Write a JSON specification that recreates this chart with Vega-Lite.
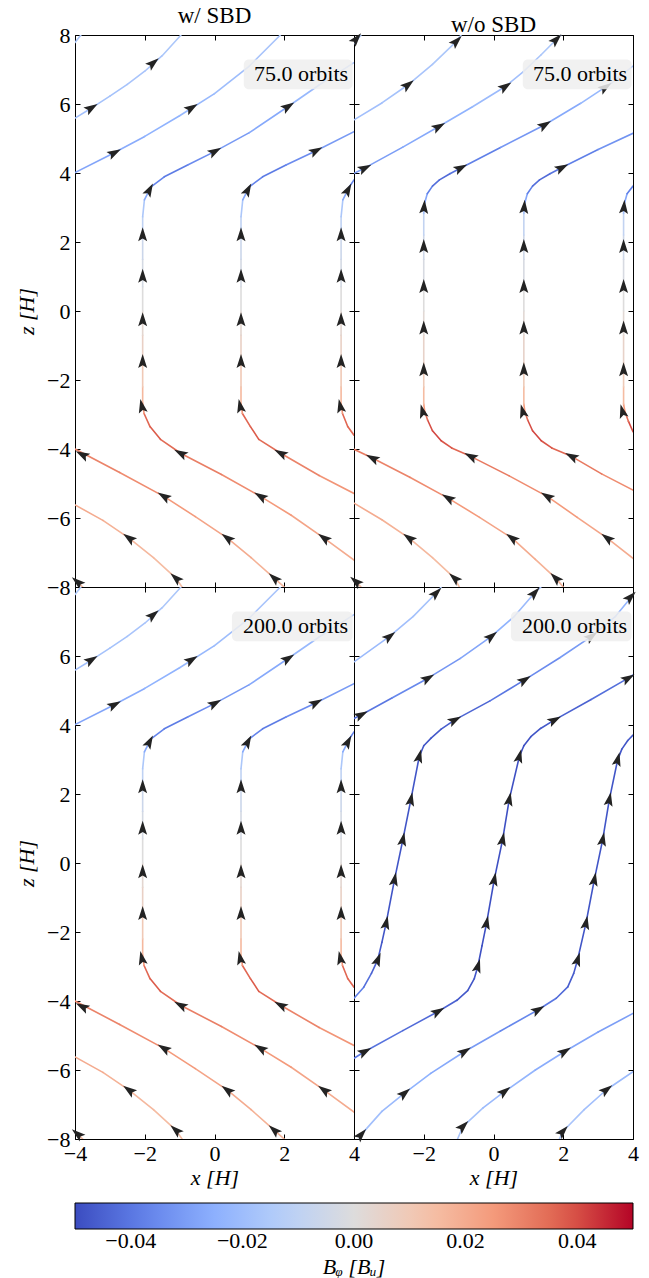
{
"$schema": "https://vega.github.io/schema/vega-lite/v6.json",
"background": "white",
"padding": {"left": 15, "top": 4, "right": 17, "bottom": 0},
"config": {
 "view": {"stroke": "black", "strokeWidth": 1},
 "font": "Liberation Serif",
 "axis": {"domain": false, "grid": false, "ticks": true, "tickSize": -5, "tickColor": "black", "tickWidth": 1, "labelFont": "Liberation Serif", "labelFontSize": 22, "labelColor": "black", "labelFlush": false, "labelOverlap": false, "titleFont": "Liberation Serif", "titleFontSize": 22, "titleFontWeight": "normal", "titleFontStyle": "italic", "titleColor": "black"},
 "axisX": {"labelPadding": 9, "titlePadding": 3},
 "axisY": {"labelPadding": 10, "titlePadding": 8},
 "title": {"font": "Liberation Serif", "fontSize": 23, "fontWeight": "normal", "color": "black", "frame": "group", "baseline": "alphabetic", "offset": -4},
 "legend": {"labelFont": "Liberation Serif", "labelFontSize": 22, "labelColor": "black", "labelOffset": 2, "titleFont": "Liberation Serif", "titleFontSize": 22, "titleFontWeight": "normal", "titleFontStyle": "italic", "titleColor": "black"}
},
"datasets": {
 "lines": [
  {"s":"A","l":1,"x":-4,"z":5.59,"b":-0.019},{"s":"A","l":1,"x":-3.5,"z":5.9,"b":-0.018},{"s":"A","l":1,"x":-3.0,"z":6.23,"b":-0.018},{"s":"A","l":1,"x":-2.5,"z":6.57,"b":-0.017},{"s":"A","l":1,"x":-2.0,"z":6.95,"b":-0.017},{"s":"A","l":1,"x":-1.5,"z":7.4,"b":-0.016},{"s":"A","l":1,"x":-0.96,"z":8,"b":-0.015},
  {"s":"A","l":2,"x":-4,"z":4.01,"b":-0.028},{"s":"A","l":2,"x":-3,"z":4.52,"b":-0.026},{"s":"A","l":2,"x":-2,"z":5.06,"b":-0.024},{"s":"A","l":2,"x":-1,"z":5.66,"b":-0.022},{"s":"A","l":2,"x":0,"z":6.3,"b":-0.02},{"s":"A","l":2,"x":1,"z":7.1,"b":-0.017},{"s":"A","l":2,"x":1.89,"z":8,"b":-0.015},
  {"s":"A","l":3,"x":4,"z":-7.22,"b":0.02},{"s":"A","l":3,"x":3.15,"z":-6.59,"b":0.022},{"s":"A","l":3,"x":2.2,"z":-5.92,"b":0.025},{"s":"A","l":3,"x":1.33,"z":-5.38,"b":0.028},{"s":"A","l":3,"x":0.2,"z":-4.74,"b":0.031},{"s":"A","l":3,"x":-0.96,"z":-4.13,"b":0.035},{"s":"A","l":3,"x":-1.55,"z":-3.72,"b":0.038},{"s":"A","l":3,"x":-1.85,"z":-3.35,"b":0.036},{"s":"A","l":3,"x":-2.02,"z":-2.97,"b":0.026},{"s":"A","l":3,"x":-2.06,"z":-2.67,"b":0.016},{"s":"A","l":3,"x":-2.06,"z":-2.2,"b":0.01},{"s":"A","l":3,"x":-2.06,"z":-1.5,"b":0.006},{"s":"A","l":3,"x":-2.06,"z":-0.7,"b":0.003},{"s":"A","l":3,"x":-2.06,"z":0,"b":0},{"s":"A","l":3,"x":-2.06,"z":0.7,"b":-0.003},{"s":"A","l":3,"x":-2.06,"z":1.5,"b":-0.006},{"s":"A","l":3,"x":-2.06,"z":2.2,"b":-0.01},{"s":"A","l":3,"x":-2.06,"z":2.73,"b":-0.016},{"s":"A","l":3,"x":-2.01,"z":3.22,"b":-0.027},{"s":"A","l":3,"x":-1.82,"z":3.6,"b":-0.037},{"s":"A","l":3,"x":-1.44,"z":3.89,"b":-0.039},{"s":"A","l":3,"x":-0.77,"z":4.23,"b":-0.035},{"s":"A","l":3,"x":0,"z":4.62,"b":-0.031},{"s":"A","l":3,"x":1.0,"z":5.17,"b":-0.027},{"s":"A","l":3,"x":2.1,"z":5.92,"b":-0.022},{"s":"A","l":3,"x":3.0,"z":6.55,"b":-0.018},{"s":"A","l":3,"x":4,"z":7.2,"b":-0.015},
  {"s":"A","l":4,"x":4,"z":-5.29,"b":0.026},{"s":"A","l":4,"x":3.0,"z":-4.77,"b":0.03},{"s":"A","l":4,"x":1.91,"z":-4.13,"b":0.035},{"s":"A","l":4,"x":1.27,"z":-3.72,"b":0.038},{"s":"A","l":4,"x":1.03,"z":-3.35,"b":0.036},{"s":"A","l":4,"x":0.8,"z":-2.97,"b":0.026},{"s":"A","l":4,"x":0.76,"z":-2.67,"b":0.016},{"s":"A","l":4,"x":0.76,"z":-2.2,"b":0.01},{"s":"A","l":4,"x":0.76,"z":-1.5,"b":0.006},{"s":"A","l":4,"x":0.76,"z":-0.7,"b":0.003},{"s":"A","l":4,"x":0.76,"z":0,"b":0},{"s":"A","l":4,"x":0.76,"z":0.7,"b":-0.003},{"s":"A","l":4,"x":0.76,"z":1.5,"b":-0.006},{"s":"A","l":4,"x":0.76,"z":2.2,"b":-0.01},{"s":"A","l":4,"x":0.76,"z":2.73,"b":-0.016},{"s":"A","l":4,"x":0.81,"z":3.22,"b":-0.027},{"s":"A","l":4,"x":1.0,"z":3.6,"b":-0.037},{"s":"A","l":4,"x":1.38,"z":3.89,"b":-0.039},{"s":"A","l":4,"x":2.05,"z":4.23,"b":-0.035},{"s":"A","l":4,"x":2.9,"z":4.64,"b":-0.031},{"s":"A","l":4,"x":4,"z":5.2,"b":-0.027},
  {"s":"A","l":5,"x":4,"z":-3.6,"b":0.036},{"s":"A","l":5,"x":3.82,"z":-3.35,"b":0.036},{"s":"A","l":5,"x":3.67,"z":-2.97,"b":0.026},{"s":"A","l":5,"x":3.63,"z":-2.67,"b":0.016},{"s":"A","l":5,"x":3.63,"z":-2.2,"b":0.01},{"s":"A","l":5,"x":3.63,"z":-1.5,"b":0.006},{"s":"A","l":5,"x":3.63,"z":-0.7,"b":0.003},{"s":"A","l":5,"x":3.63,"z":0,"b":0},{"s":"A","l":5,"x":3.63,"z":0.7,"b":-0.003},{"s":"A","l":5,"x":3.63,"z":1.5,"b":-0.006},{"s":"A","l":5,"x":3.63,"z":2.2,"b":-0.01},{"s":"A","l":5,"x":3.63,"z":2.73,"b":-0.016},{"s":"A","l":5,"x":3.68,"z":3.22,"b":-0.027},{"s":"A","l":5,"x":3.87,"z":3.6,"b":-0.037},{"s":"A","l":5,"x":4,"z":3.8,"b":-0.039},
  {"s":"A","l":6,"x":2.0,"z":-8,"b":0.017},{"s":"A","l":6,"x":1.72,"z":-7.75,"b":0.018},{"s":"A","l":6,"x":1.05,"z":-7.15,"b":0.02},{"s":"A","l":6,"x":0.38,"z":-6.59,"b":0.022},{"s":"A","l":6,"x":-0.55,"z":-5.96,"b":0.025},{"s":"A","l":6,"x":-1.44,"z":-5.38,"b":0.028},{"s":"A","l":6,"x":-2.72,"z":-4.68,"b":0.03},{"s":"A","l":6,"x":-4,"z":-4.0,"b":0.032},
  {"s":"A","l":7,"x":-0.93,"z":-8,"b":0.014},{"s":"A","l":7,"x":-1.1,"z":-7.75,"b":0.015},{"s":"A","l":7,"x":-1.75,"z":-7.15,"b":0.016},{"s":"A","l":7,"x":-2.44,"z":-6.59,"b":0.018},{"s":"A","l":7,"x":-3.2,"z":-6.07,"b":0.02},{"s":"A","l":7,"x":-4,"z":-5.62,"b":0.021},
  {"s":"A","l":8,"x":-3.78,"z":-8,"b":0.015},{"s":"A","l":8,"x":-3.9,"z":-7.88,"b":0.016},{"s":"A","l":8,"x":-4,"z":-7.8,"b":0.016},
  {"s":"A","l":9,"x":-4,"z":7.78,"b":-0.016},{"s":"A","l":9,"x":-3.83,"z":8,"b":-0.015},

  {"s":"B","l":1,"x":-4,"z":5.54,"b":-0.019},{"s":"B","l":1,"x":-3.2,"z":6.03,"b":-0.018},{"s":"B","l":1,"x":-2.46,"z":6.55,"b":-0.017},{"s":"B","l":1,"x":-1.75,"z":7.15,"b":-0.016},{"s":"B","l":1,"x":-1.07,"z":7.81,"b":-0.015},{"s":"B","l":1,"x":-0.93,"z":8,"b":-0.015},
  {"s":"B","l":2,"x":-4,"z":3.99,"b":-0.031},{"s":"B","l":2,"x":-3.7,"z":4.14,"b":-0.03},{"s":"B","l":2,"x":-2.6,"z":4.75,"b":-0.027},{"s":"B","l":2,"x":-1.58,"z":5.34,"b":-0.024},{"s":"B","l":2,"x":-0.6,"z":5.92,"b":-0.021},{"s":"B","l":2,"x":0.33,"z":6.5,"b":-0.019},{"s":"B","l":2,"x":0.85,"z":6.93,"b":-0.017},{"s":"B","l":2,"x":1.36,"z":7.42,"b":-0.016},{"s":"B","l":2,"x":1.93,"z":8,"b":-0.015},
  {"s":"B","l":3,"x":4,"z":-7.17,"b":0.02},{"s":"B","l":3,"x":3.27,"z":-6.59,"b":0.022},{"s":"B","l":3,"x":2.4,"z":-5.98,"b":0.025},{"s":"B","l":3,"x":1.55,"z":-5.38,"b":0.028},{"s":"B","l":3,"x":0.45,"z":-4.78,"b":0.032},{"s":"B","l":3,"x":-0.64,"z":-4.22,"b":0.036},{"s":"B","l":3,"x":-1.2,"z":-3.97,"b":0.039},{"s":"B","l":3,"x":-1.5,"z":-3.76,"b":0.041},{"s":"B","l":3,"x":-1.75,"z":-3.47,"b":0.04},{"s":"B","l":3,"x":-1.89,"z":-3.16,"b":0.034},{"s":"B","l":3,"x":-1.97,"z":-2.92,"b":0.025},{"s":"B","l":3,"x":-2.0,"z":-2.7,"b":0.015},{"s":"B","l":3,"x":-2.0,"z":-2.2,"b":0.009},{"s":"B","l":3,"x":-2.0,"z":-1.5,"b":0.005},{"s":"B","l":3,"x":-2.0,"z":-0.7,"b":0.002},{"s":"B","l":3,"x":-2.0,"z":0,"b":0},{"s":"B","l":3,"x":-2.0,"z":0.7,"b":-0.002},{"s":"B","l":3,"x":-2.0,"z":1.5,"b":-0.005},{"s":"B","l":3,"x":-2.0,"z":2.2,"b":-0.009},{"s":"B","l":3,"x":-2.0,"z":2.83,"b":-0.018},{"s":"B","l":3,"x":-1.98,"z":3.1,"b":-0.028},{"s":"B","l":3,"x":-1.9,"z":3.4,"b":-0.038},{"s":"B","l":3,"x":-1.75,"z":3.62,"b":-0.042},{"s":"B","l":3,"x":-1.55,"z":3.8,"b":-0.043},{"s":"B","l":3,"x":-1.25,"z":3.98,"b":-0.041},{"s":"B","l":3,"x":-0.95,"z":4.14,"b":-0.038},{"s":"B","l":3,"x":0.2,"z":4.74,"b":-0.032},{"s":"B","l":3,"x":1.46,"z":5.39,"b":-0.027},{"s":"B","l":3,"x":2.5,"z":6.02,"b":-0.022},{"s":"B","l":3,"x":3.4,"z":6.62,"b":-0.018},{"s":"B","l":3,"x":4,"z":7.1,"b":-0.016},
  {"s":"B","l":4,"x":4,"z":-5.19,"b":0.028},{"s":"B","l":4,"x":3.1,"z":-4.72,"b":0.032},{"s":"B","l":4,"x":2.25,"z":-4.22,"b":0.036},{"s":"B","l":4,"x":1.67,"z":-3.97,"b":0.039},{"s":"B","l":4,"x":1.37,"z":-3.76,"b":0.041},{"s":"B","l":4,"x":1.12,"z":-3.47,"b":0.04},{"s":"B","l":4,"x":0.98,"z":-3.16,"b":0.034},{"s":"B","l":4,"x":0.9,"z":-2.92,"b":0.025},{"s":"B","l":4,"x":0.87,"z":-2.7,"b":0.015},{"s":"B","l":4,"x":0.87,"z":-2.2,"b":0.009},{"s":"B","l":4,"x":0.87,"z":-1.5,"b":0.005},{"s":"B","l":4,"x":0.87,"z":-0.7,"b":0.002},{"s":"B","l":4,"x":0.87,"z":0,"b":0},{"s":"B","l":4,"x":0.87,"z":0.7,"b":-0.002},{"s":"B","l":4,"x":0.87,"z":1.5,"b":-0.005},{"s":"B","l":4,"x":0.87,"z":2.2,"b":-0.009},{"s":"B","l":4,"x":0.87,"z":2.83,"b":-0.018},{"s":"B","l":4,"x":0.89,"z":3.1,"b":-0.028},{"s":"B","l":4,"x":0.97,"z":3.4,"b":-0.038},{"s":"B","l":4,"x":1.12,"z":3.62,"b":-0.042},{"s":"B","l":4,"x":1.32,"z":3.8,"b":-0.043},{"s":"B","l":4,"x":1.62,"z":3.98,"b":-0.041},{"s":"B","l":4,"x":1.95,"z":4.15,"b":-0.038},{"s":"B","l":4,"x":3.0,"z":4.68,"b":-0.033},{"s":"B","l":4,"x":4,"z":5.15,"b":-0.029},
  {"s":"B","l":5,"x":4,"z":-3.5,"b":0.04},{"s":"B","l":5,"x":3.87,"z":-3.2,"b":0.034},{"s":"B","l":5,"x":3.77,"z":-2.92,"b":0.025},{"s":"B","l":5,"x":3.73,"z":-2.7,"b":0.015},{"s":"B","l":5,"x":3.73,"z":-2.2,"b":0.009},{"s":"B","l":5,"x":3.73,"z":-1.5,"b":0.005},{"s":"B","l":5,"x":3.73,"z":-0.7,"b":0.002},{"s":"B","l":5,"x":3.73,"z":0,"b":0},{"s":"B","l":5,"x":3.73,"z":0.7,"b":-0.002},{"s":"B","l":5,"x":3.73,"z":1.5,"b":-0.005},{"s":"B","l":5,"x":3.73,"z":2.2,"b":-0.009},{"s":"B","l":5,"x":3.73,"z":2.83,"b":-0.018},{"s":"B","l":5,"x":3.75,"z":3.1,"b":-0.028},{"s":"B","l":5,"x":3.83,"z":3.4,"b":-0.038},{"s":"B","l":5,"x":4,"z":3.62,"b":-0.042},
  {"s":"B","l":6,"x":2.0,"z":-8,"b":0.017},{"s":"B","l":6,"x":1.79,"z":-7.75,"b":0.018},{"s":"B","l":6,"x":1.2,"z":-7.2,"b":0.02},{"s":"B","l":6,"x":0.54,"z":-6.59,"b":0.022},{"s":"B","l":6,"x":-0.4,"z":-5.98,"b":0.025},{"s":"B","l":6,"x":-1.29,"z":-5.43,"b":0.028},{"s":"B","l":6,"x":-2.4,"z":-4.82,"b":0.03},{"s":"B","l":6,"x":-3.46,"z":-4.27,"b":0.032},{"s":"B","l":6,"x":-4,"z":-4.01,"b":0.033},
  {"s":"B","l":7,"x":-0.98,"z":-8,"b":0.014},{"s":"B","l":7,"x":-1.11,"z":-7.75,"b":0.015},{"s":"B","l":7,"x":-1.75,"z":-7.15,"b":0.016},{"s":"B","l":7,"x":-2.41,"z":-6.59,"b":0.018},{"s":"B","l":7,"x":-3.2,"z":-6.05,"b":0.02},{"s":"B","l":7,"x":-4,"z":-5.57,"b":0.021},
  {"s":"B","l":8,"x":-3.8,"z":-8,"b":0.015},{"s":"B","l":8,"x":-3.92,"z":-7.87,"b":0.016},{"s":"B","l":8,"x":-4,"z":-7.8,"b":0.016},
  {"s":"B","l":9,"x":-4,"z":7.75,"b":-0.016},{"s":"B","l":9,"x":-3.8,"z":8,"b":-0.015},

  {"s":"C","l":1,"x":-4,"z":5.83,"b":-0.021},{"s":"C","l":1,"x":-2.99,"z":6.56,"b":-0.019},{"s":"C","l":1,"x":-2.3,"z":7.15,"b":-0.018},{"s":"C","l":1,"x":-1.65,"z":7.82,"b":-0.016},{"s":"C","l":1,"x":-1.5,"z":8,"b":-0.016},
  {"s":"C","l":2,"x":-4,"z":4.19,"b":-0.042},{"s":"C","l":2,"x":-3.8,"z":4.29,"b":-0.04},{"s":"C","l":2,"x":-2.9,"z":4.79,"b":-0.036},{"s":"C","l":2,"x":-1.89,"z":5.35,"b":-0.032},{"s":"C","l":2,"x":-0.95,"z":5.93,"b":-0.028},{"s":"C","l":2,"x":-0.07,"z":6.56,"b":-0.024},{"s":"C","l":2,"x":0.6,"z":7.15,"b":-0.021},{"s":"C","l":2,"x":1.17,"z":7.82,"b":-0.019},{"s":"C","l":2,"x":1.36,"z":8,"b":-0.018},
  {"s":"C","l":3,"x":-4,"z":-3.92,"b":-0.038},{"s":"C","l":3,"x":-3.72,"z":-3.6,"b":-0.042},{"s":"C","l":3,"x":-3.5,"z":-3.2,"b":-0.045},{"s":"C","l":3,"x":-3.32,"z":-2.81,"b":-0.047},{"s":"C","l":3,"x":-3.2,"z":-2.3,"b":-0.048},{"s":"C","l":3,"x":-3.08,"z":-1.75,"b":-0.048},{"s":"C","l":3,"x":-2.84,"z":-0.49,"b":-0.048},{"s":"C","l":3,"x":-2.6,"z":0.67,"b":-0.048},{"s":"C","l":3,"x":-2.37,"z":1.83,"b":-0.048},{"s":"C","l":3,"x":-2.13,"z":3.08,"b":-0.048},{"s":"C","l":3,"x":-2.0,"z":3.4,"b":-0.048},{"s":"C","l":3,"x":-1.79,"z":3.62,"b":-0.047},{"s":"C","l":3,"x":-1.5,"z":3.88,"b":-0.046},{"s":"C","l":3,"x":-1.12,"z":4.14,"b":-0.044},{"s":"C","l":3,"x":-0.1,"z":4.7,"b":-0.04},{"s":"C","l":3,"x":0.88,"z":5.3,"b":-0.035},{"s":"C","l":3,"x":1.9,"z":5.95,"b":-0.031},{"s":"C","l":3,"x":2.8,"z":6.56,"b":-0.027},{"s":"C","l":3,"x":3.5,"z":7.15,"b":-0.023},{"s":"C","l":3,"x":4,"z":7.77,"b":-0.02},
  {"s":"C","l":4,"x":-4,"z":-5.66,"b":-0.04},{"s":"C","l":4,"x":-3.7,"z":-5.47,"b":-0.041},{"s":"C","l":4,"x":-2.6,"z":-4.86,"b":-0.043},{"s":"C","l":4,"x":-1.6,"z":-4.31,"b":-0.045},{"s":"C","l":4,"x":-1.05,"z":-3.98,"b":-0.047},{"s":"C","l":4,"x":-0.74,"z":-3.7,"b":-0.048},{"s":"C","l":4,"x":-0.55,"z":-3.35,"b":-0.048},{"s":"C","l":4,"x":-0.45,"z":-3.0,"b":-0.049},{"s":"C","l":4,"x":-0.33,"z":-2.4,"b":-0.049},{"s":"C","l":4,"x":-0.2,"z":-1.75,"b":-0.049},{"s":"C","l":4,"x":0.02,"z":-0.49,"b":-0.049},{"s":"C","l":4,"x":0.26,"z":0.67,"b":-0.049},{"s":"C","l":4,"x":0.45,"z":1.83,"b":-0.049},{"s":"C","l":4,"x":0.74,"z":3.08,"b":-0.049},{"s":"C","l":4,"x":0.87,"z":3.4,"b":-0.049},{"s":"C","l":4,"x":1.07,"z":3.66,"b":-0.048},{"s":"C","l":4,"x":1.35,"z":3.9,"b":-0.047},{"s":"C","l":4,"x":1.74,"z":4.14,"b":-0.045},{"s":"C","l":4,"x":2.8,"z":4.74,"b":-0.042},{"s":"C","l":4,"x":3.85,"z":5.35,"b":-0.039},{"s":"C","l":4,"x":4,"z":5.45,"b":-0.039},
  {"s":"C","l":5,"x":-3.85,"z":-8,"b":-0.018},{"s":"C","l":5,"x":-3.8,"z":-7.88,"b":-0.019},{"s":"C","l":5,"x":-3.2,"z":-7.2,"b":-0.021},{"s":"C","l":5,"x":-2.56,"z":-6.68,"b":-0.024},{"s":"C","l":5,"x":-1.8,"z":-6.1,"b":-0.027},{"s":"C","l":5,"x":-0.84,"z":-5.47,"b":-0.031},{"s":"C","l":5,"x":0.2,"z":-4.87,"b":-0.036},{"s":"C","l":5,"x":1.27,"z":-4.26,"b":-0.04},{"s":"C","l":5,"x":1.8,"z":-3.92,"b":-0.043},{"s":"C","l":5,"x":2.13,"z":-3.59,"b":-0.046},{"s":"C","l":5,"x":2.3,"z":-3.2,"b":-0.047},{"s":"C","l":5,"x":2.41,"z":-2.81,"b":-0.048},{"s":"C","l":5,"x":2.65,"z":-1.75,"b":-0.048},{"s":"C","l":5,"x":2.89,"z":-0.49,"b":-0.048},{"s":"C","l":5,"x":3.13,"z":0.67,"b":-0.048},{"s":"C","l":5,"x":3.32,"z":1.83,"b":-0.048},{"s":"C","l":5,"x":3.56,"z":2.99,"b":-0.048},{"s":"C","l":5,"x":3.68,"z":3.3,"b":-0.048},{"s":"C","l":5,"x":3.85,"z":3.55,"b":-0.047},{"s":"C","l":5,"x":4,"z":3.71,"b":-0.047},
  {"s":"C","l":6,"x":-1.03,"z":-8,"b":-0.017},{"s":"C","l":6,"x":-0.88,"z":-7.64,"b":-0.018},{"s":"C","l":6,"x":-0.3,"z":-7.1,"b":-0.021},{"s":"C","l":6,"x":0.31,"z":-6.63,"b":-0.023},{"s":"C","l":6,"x":1.2,"z":-6.0,"b":-0.026},{"s":"C","l":6,"x":2.03,"z":-5.47,"b":-0.028},{"s":"C","l":6,"x":3.0,"z":-4.9,"b":-0.03},{"s":"C","l":6,"x":4,"z":-4.36,"b":-0.032},
  {"s":"C","l":7,"x":1.89,"z":-8,"b":-0.016},{"s":"C","l":7,"x":1.98,"z":-7.79,"b":-0.017},{"s":"C","l":7,"x":2.6,"z":-7.15,"b":-0.019},{"s":"C","l":7,"x":3.23,"z":-6.58,"b":-0.021},{"s":"C","l":7,"x":4,"z":-6.05,"b":-0.022}
 ],
 "arrows": [
  {"s":"A","x":-3.54,"z":5.88,"a":58},{"s":"A","x":-1.77,"z":7.18,"a":50},{"s":"A","x":-2.88,"z":4.58,"a":62},{"s":"A","x":-0.67,"z":5.88,"a":58},{"s":"A","x":0,"z":4.62,"a":61},{"s":"A","x":2.1,"z":5.92,"a":57},{"s":"A","x":2.9,"z":4.64,"a":61},{"s":"A","x":-1.87,"z":3.5,"a":28},{"s":"A","x":0.95,"z":3.5,"a":28},{"s":"A","x":3.82,"z":3.5,"a":28},
  {"s":"A","x":-2.06,"z":2.2,"a":0},{"s":"A","x":-2.06,"z":1.0,"a":0},{"s":"A","x":-2.06,"z":-0.26,"a":0},{"s":"A","x":-2.06,"z":-1.47,"a":0},{"s":"A","x":-2.08,"z":-2.77,"a":-12},
  {"s":"A","x":0.76,"z":2.2,"a":0},{"s":"A","x":0.76,"z":1.0,"a":0},{"s":"A","x":0.76,"z":-0.26,"a":0},{"s":"A","x":0.76,"z":-1.47,"a":0},{"s":"A","x":0.74,"z":-2.77,"a":-12},
  {"s":"A","x":3.63,"z":2.2,"a":0},{"s":"A","x":3.63,"z":1.0,"a":0},{"s":"A","x":3.63,"z":-0.26,"a":0},{"s":"A","x":3.63,"z":-1.47,"a":0},{"s":"A","x":3.61,"z":-2.77,"a":-12},
  {"s":"A","x":-3.78,"z":-4.17,"a":-62},{"s":"A","x":-1.44,"z":-5.38,"a":-59},{"s":"A","x":0.38,"z":-6.59,"a":-53},{"s":"A","x":1.72,"z":-7.75,"a":-48},{"s":"A","x":-2.44,"z":-6.59,"a":-54},{"s":"A","x":-1.1,"z":-7.75,"a":-48},{"s":"A","x":-0.96,"z":-4.13,"a":-62},{"s":"A","x":1.33,"z":-5.38,"a":-59},{"s":"A","x":3.15,"z":-6.59,"a":-54},{"s":"A","x":1.91,"z":-4.13,"a":-62},{"s":"A","x":-3.92,"z":-7.86,"a":-50},

  {"s":"B","x":-2.46,"z":6.55,"a":52},{"s":"B","x":-1.07,"z":7.81,"a":45},{"s":"B","x":-3.7,"z":4.14,"a":63},{"s":"B","x":-1.58,"z":5.34,"a":60},{"s":"B","x":0.33,"z":6.5,"a":56},{"s":"B","x":1.79,"z":7.86,"a":45},{"s":"B","x":-0.95,"z":4.14,"a":62},{"s":"B","x":1.46,"z":5.39,"a":58},{"s":"B","x":3.2,"z":6.48,"a":56},{"s":"B","x":1.95,"z":4.15,"a":62},{"s":"B","x":-3.94,"z":7.88,"a":40},
  {"s":"B","x":-1.99,"z":3.0,"a":4},{"s":"B","x":-2.0,"z":1.86,"a":0},{"s":"B","x":-2.0,"z":0.7,"a":0},{"s":"B","x":-2.0,"z":-0.5,"a":0},{"s":"B","x":-2.0,"z":-1.71,"a":0},{"s":"B","x":-2.03,"z":-2.92,"a":-15},
  {"s":"B","x":0.88,"z":3.0,"a":4},{"s":"B","x":0.87,"z":1.86,"a":0},{"s":"B","x":0.87,"z":0.7,"a":0},{"s":"B","x":0.87,"z":-0.5,"a":0},{"s":"B","x":0.87,"z":-1.71,"a":0},{"s":"B","x":0.84,"z":-2.92,"a":-15},
  {"s":"B","x":3.74,"z":3.0,"a":4},{"s":"B","x":3.73,"z":1.86,"a":0},{"s":"B","x":3.73,"z":0.7,"a":0},{"s":"B","x":3.73,"z":-0.5,"a":0},{"s":"B","x":3.73,"z":-1.71,"a":0},{"s":"B","x":3.7,"z":-2.92,"a":-15},
  {"s":"B","x":-3.46,"z":-4.27,"a":-63},{"s":"B","x":-0.64,"z":-4.22,"a":-62},{"s":"B","x":2.25,"z":-4.22,"a":-62},{"s":"B","x":-1.29,"z":-5.43,"a":-59},{"s":"B","x":1.55,"z":-5.38,"a":-59},{"s":"B","x":-2.41,"z":-6.59,"a":-54},{"s":"B","x":0.54,"z":-6.59,"a":-53},{"s":"B","x":3.27,"z":-6.59,"a":-53},{"s":"B","x":-1.11,"z":-7.75,"a":-48},{"s":"B","x":1.79,"z":-7.75,"a":-45},{"s":"B","x":-3.94,"z":-7.85,"a":-50},

  {"s":"C","x":-2.99,"z":6.56,"a":52},{"s":"C","x":-1.65,"z":7.82,"a":45},
  {"s":"C","x":-3.8,"z":4.29,"a":62},{"s":"C","x":-1.89,"z":5.35,"a":59},{"s":"C","x":-0.07,"z":6.56,"a":51},{"s":"C","x":1.17,"z":7.82,"a":42},
  {"s":"C","x":-3.32,"z":-2.81,"a":22},{"s":"C","x":-3.08,"z":-1.75,"a":12},{"s":"C","x":-2.84,"z":-0.49,"a":11},{"s":"C","x":-2.6,"z":0.67,"a":11},{"s":"C","x":-2.37,"z":1.83,"a":11},{"s":"C","x":-2.13,"z":3.08,"a":14},{"s":"C","x":-1.12,"z":4.14,"a":61},{"s":"C","x":0.88,"z":5.3,"a":57},{"s":"C","x":2.8,"z":6.56,"a":53},{"s":"C","x":3.92,"z":7.7,"a":45},
  {"s":"C","x":-3.7,"z":-5.47,"a":61},{"s":"C","x":-1.6,"z":-4.31,"a":60},{"s":"C","x":-0.45,"z":-3.0,"a":16},{"s":"C","x":-0.2,"z":-1.75,"a":11},{"s":"C","x":0.02,"z":-0.49,"a":11},{"s":"C","x":0.26,"z":0.67,"a":11},{"s":"C","x":0.45,"z":1.83,"a":11},{"s":"C","x":0.74,"z":3.08,"a":14},{"s":"C","x":1.74,"z":4.14,"a":61},{"s":"C","x":3.85,"z":5.35,"a":60},
  {"s":"C","x":-3.8,"z":-7.88,"a":42},{"s":"C","x":-2.56,"z":-6.68,"a":50},{"s":"C","x":-0.84,"z":-5.47,"a":58},{"s":"C","x":1.27,"z":-4.26,"a":60},{"s":"C","x":2.41,"z":-2.81,"a":17},{"s":"C","x":2.65,"z":-1.75,"a":11},{"s":"C","x":2.89,"z":-0.49,"a":11},{"s":"C","x":3.13,"z":0.67,"a":11},{"s":"C","x":3.32,"z":1.83,"a":11},{"s":"C","x":3.56,"z":2.99,"a":14},
  {"s":"C","x":-0.88,"z":-7.64,"a":45},{"s":"C","x":0.31,"z":-6.63,"a":52},{"s":"C","x":2.03,"z":-5.47,"a":58},
  {"s":"C","x":1.98,"z":-7.79,"a":42},{"s":"C","x":3.23,"z":-6.58,"a":52}
 ]
},
"columns": 2,
"spacing": 0,
"bounds": "flush",
"concat": [
  {"width": 279, "height": 552, "title": {"text": "w/ SBD"},
   "layer": [
    {"data": {"name": "lines"}, "transform": [{"filter": "datum.s == 'A'"}, {"window": [{"op": "lead", "field": "x", "as": "x2"}, {"op": "lead", "field": "z", "as": "z2"}], "groupby": ["l"]}, {"filter": "datum.x2 != null"}],
     "mark": {"type": "rule", "strokeWidth": 1.6, "strokeCap": "round", "clip": true},
     "encoding": {
      "x": {"field": "x", "type": "quantitative", "scale": {"domain": [-4, 4], "nice": false, "zero": false}, "axis": {"orient": "bottom", "labels": false, "title": null, "values": [-4,-2,0,2,4]}},
      "y": {"field": "z", "type": "quantitative", "scale": {"domain": [-8, 8], "nice": false, "zero": false}, "axis": {"orient": "left", "title": "z [H]", "values": [-8,-6,-4,-2,0,2,4,6,8]}},
      "x2": {"field": "x2"}, "y2": {"field": "z2"},
      "color": {"field": "b", "type": "quantitative", "scale": {"domain": [-0.05,-0.0375,-0.025,-0.0125,0,0.0125,0.025,0.0375,0.05], "range": ["#3b4cc0","#6282ea","#8db0fe","#b8d0f9","#dddcdc","#f5c4ac","#f49a7b","#de604d","#b40426"], "interpolate": "rgb", "clamp": true}, "legend": {"orient": "bottom", "direction": "horizontal", "title": "Bᵩ [Bᵤ]", "titleOrient": "bottom", "titleAnchor": "middle", "gradientLength": 558, "gradientThickness": 26, "gradientStrokeColor": "black", "gradientStrokeWidth": 1, "values": [-0.04,-0.02,0,0.02,0.04], "format": ".2f", "offset": 14}}
     }},
    {"data": {"name": "arrows"}, "transform": [{"filter": "datum.s == 'A'"}],
     "mark": {"type": "point", "shape": "M0,-1L0.58,0.8L0,0.45L-0.58,0.8Z", "filled": true, "color": "#232323", "size": 240, "opacity": 1, "strokeWidth": 0},
     "encoding": {
      "x": {"field": "x", "type": "quantitative", "scale": {"domain": [-4, 4], "nice": false, "zero": false}, "axis": {"orient": "top", "labels": false, "title": null, "values": [-4,-2,0,2,4]}},
      "y": {"field": "z", "type": "quantitative", "scale": {"domain": [-8, 8], "nice": false, "zero": false}, "axis": {"orient": "right", "labels": false, "title": null, "values": [-8,-6,-4,-2,0,2,4,6,8]}},
      "angle": {"field": "a", "type": "quantitative", "scale": null}
     }},
    {"data": {"values": [{}]},
     "mark": {"type": "rect", "fill": "#efefef", "fillOpacity": 0.85, "cornerRadius": 5},
     "encoding": {"x": {"datum": 0.84, "type": "quantitative", "axis": null}, "x2": {"datum": 3.96}, "y": {"datum": 7.29, "type": "quantitative", "axis": null}, "y2": {"datum": 6.43}}},
    {"data": {"values": [{}]},
     "mark": {"type": "text", "text": "75.0 orbits", "align": "right", "baseline": "middle", "fontSize": 22, "font": "Liberation Serif", "color": "black"},
     "encoding": {"x": {"datum": 3.83, "type": "quantitative", "axis": null}, "y": {"datum": 6.88, "type": "quantitative", "axis": null}}}
   ],
   "resolve": {"axis": {"x": "independent", "y": "independent"}}
  },
  {"width": 279, "height": 552, "title": {"text": "w/o SBD"},
   "layer": [
    {"data": {"name": "lines"}, "transform": [{"filter": "datum.s == 'B'"}, {"window": [{"op": "lead", "field": "x", "as": "x2"}, {"op": "lead", "field": "z", "as": "z2"}], "groupby": ["l"]}, {"filter": "datum.x2 != null"}],
     "mark": {"type": "rule", "strokeWidth": 1.6, "strokeCap": "round", "clip": true},
     "encoding": {
      "x": {"field": "x", "type": "quantitative", "scale": {"domain": [-4, 4], "nice": false, "zero": false}, "axis": {"orient": "bottom", "labels": false, "title": null, "values": [-4,-2,0,2,4]}},
      "y": {"field": "z", "type": "quantitative", "scale": {"domain": [-8, 8], "nice": false, "zero": false}, "axis": {"orient": "left", "labels": false, "title": null, "values": [-8,-6,-4,-2,0,2,4,6,8]}},
      "x2": {"field": "x2"}, "y2": {"field": "z2"},
      "color": {"field": "b", "type": "quantitative", "scale": {"domain": [-0.05,-0.0375,-0.025,-0.0125,0,0.0125,0.025,0.0375,0.05], "range": ["#3b4cc0","#6282ea","#8db0fe","#b8d0f9","#dddcdc","#f5c4ac","#f49a7b","#de604d","#b40426"], "interpolate": "rgb", "clamp": true}, "legend": {"orient": "bottom", "direction": "horizontal", "title": "Bᵩ [Bᵤ]", "titleOrient": "bottom", "titleAnchor": "middle", "gradientLength": 558, "gradientThickness": 26, "gradientStrokeColor": "black", "gradientStrokeWidth": 1, "values": [-0.04,-0.02,0,0.02,0.04], "format": ".2f", "offset": 14}}
     }},
    {"data": {"name": "arrows"}, "transform": [{"filter": "datum.s == 'B'"}],
     "mark": {"type": "point", "shape": "M0,-1L0.58,0.8L0,0.45L-0.58,0.8Z", "filled": true, "color": "#232323", "size": 240, "opacity": 1, "strokeWidth": 0},
     "encoding": {
      "x": {"field": "x", "type": "quantitative", "scale": {"domain": [-4, 4], "nice": false, "zero": false}, "axis": {"orient": "top", "labels": false, "title": null, "values": [-4,-2,0,2,4]}},
      "y": {"field": "z", "type": "quantitative", "scale": {"domain": [-8, 8], "nice": false, "zero": false}, "axis": {"orient": "right", "labels": false, "title": null, "values": [-8,-6,-4,-2,0,2,4,6,8]}},
      "angle": {"field": "a", "type": "quantitative", "scale": null}
     }},
    {"data": {"values": [{}]},
     "mark": {"type": "rect", "fill": "#efefef", "fillOpacity": 0.85, "cornerRadius": 5},
     "encoding": {"x": {"datum": 0.84, "type": "quantitative", "axis": null}, "x2": {"datum": 3.96}, "y": {"datum": 7.29, "type": "quantitative", "axis": null}, "y2": {"datum": 6.43}}},
    {"data": {"values": [{}]},
     "mark": {"type": "text", "text": "75.0 orbits", "align": "right", "baseline": "middle", "fontSize": 22, "font": "Liberation Serif", "color": "black"},
     "encoding": {"x": {"datum": 3.83, "type": "quantitative", "axis": null}, "y": {"datum": 6.88, "type": "quantitative", "axis": null}}}
   ],
   "resolve": {"axis": {"x": "independent", "y": "independent"}}
  },
  {"width": 279, "height": 552,
   "layer": [
    {"data": {"name": "lines"}, "transform": [{"filter": "datum.s == 'A'"}, {"window": [{"op": "lead", "field": "x", "as": "x2"}, {"op": "lead", "field": "z", "as": "z2"}], "groupby": ["l"]}, {"filter": "datum.x2 != null"}],
     "mark": {"type": "rule", "strokeWidth": 1.6, "strokeCap": "round", "clip": true},
     "encoding": {
      "x": {"field": "x", "type": "quantitative", "scale": {"domain": [-4, 4], "nice": false, "zero": false}, "axis": {"orient": "bottom", "title": "x [H]", "values": [-4,-2,0,2,4]}},
      "y": {"field": "z", "type": "quantitative", "scale": {"domain": [-8, 8], "nice": false, "zero": false}, "axis": {"orient": "left", "title": "z [H]", "values": [-8,-6,-4,-2,0,2,4,6,8], "labelExpr": "datum.value == 8 ? '' : datum.label"}},
      "x2": {"field": "x2"}, "y2": {"field": "z2"},
      "color": {"field": "b", "type": "quantitative", "scale": {"domain": [-0.05,-0.0375,-0.025,-0.0125,0,0.0125,0.025,0.0375,0.05], "range": ["#3b4cc0","#6282ea","#8db0fe","#b8d0f9","#dddcdc","#f5c4ac","#f49a7b","#de604d","#b40426"], "interpolate": "rgb", "clamp": true}, "legend": {"orient": "bottom", "direction": "horizontal", "title": "Bᵩ [Bᵤ]", "titleOrient": "bottom", "titleAnchor": "middle", "gradientLength": 558, "gradientThickness": 26, "gradientStrokeColor": "black", "gradientStrokeWidth": 1, "values": [-0.04,-0.02,0,0.02,0.04], "format": ".2f", "offset": 14}}
     }},
    {"data": {"name": "arrows"}, "transform": [{"filter": "datum.s == 'A'"}],
     "mark": {"type": "point", "shape": "M0,-1L0.58,0.8L0,0.45L-0.58,0.8Z", "filled": true, "color": "#232323", "size": 240, "opacity": 1, "strokeWidth": 0},
     "encoding": {
      "x": {"field": "x", "type": "quantitative", "scale": {"domain": [-4, 4], "nice": false, "zero": false}, "axis": {"orient": "top", "labels": false, "title": null, "values": [-4,-2,0,2,4]}},
      "y": {"field": "z", "type": "quantitative", "scale": {"domain": [-8, 8], "nice": false, "zero": false}, "axis": {"orient": "right", "labels": false, "title": null, "values": [-8,-6,-4,-2,0,2,4,6,8]}},
      "angle": {"field": "a", "type": "quantitative", "scale": null}
     }},
    {"data": {"values": [{}]},
     "mark": {"type": "rect", "fill": "#efefef", "fillOpacity": 0.85, "cornerRadius": 5},
     "encoding": {"x": {"datum": 0.5, "type": "quantitative", "axis": null}, "x2": {"datum": 3.96}, "y": {"datum": 7.29, "type": "quantitative", "axis": null}, "y2": {"datum": 6.43}}},
    {"data": {"values": [{}]},
     "mark": {"type": "text", "text": "200.0 orbits", "align": "right", "baseline": "middle", "fontSize": 22, "font": "Liberation Serif", "color": "black"},
     "encoding": {"x": {"datum": 3.83, "type": "quantitative", "axis": null}, "y": {"datum": 6.88, "type": "quantitative", "axis": null}}}
   ],
   "resolve": {"axis": {"x": "independent", "y": "independent"}}
  },
  {"width": 279, "height": 552,
   "layer": [
    {"data": {"name": "lines"}, "transform": [{"filter": "datum.s == 'C'"}, {"window": [{"op": "lead", "field": "x", "as": "x2"}, {"op": "lead", "field": "z", "as": "z2"}], "groupby": ["l"]}, {"filter": "datum.x2 != null"}],
     "mark": {"type": "rule", "strokeWidth": 1.6, "strokeCap": "round", "clip": true},
     "encoding": {
      "x": {"field": "x", "type": "quantitative", "scale": {"domain": [-4, 4], "nice": false, "zero": false}, "axis": {"orient": "bottom", "title": "x [H]", "values": [-4,-2,0,2,4], "labelExpr": "datum.value == -4 ? '' : datum.label"}},
      "y": {"field": "z", "type": "quantitative", "scale": {"domain": [-8, 8], "nice": false, "zero": false}, "axis": {"orient": "left", "labels": false, "title": null, "values": [-8,-6,-4,-2,0,2,4,6,8]}},
      "x2": {"field": "x2"}, "y2": {"field": "z2"},
      "color": {"field": "b", "type": "quantitative", "scale": {"domain": [-0.05,-0.0375,-0.025,-0.0125,0,0.0125,0.025,0.0375,0.05], "range": ["#3b4cc0","#6282ea","#8db0fe","#b8d0f9","#dddcdc","#f5c4ac","#f49a7b","#de604d","#b40426"], "interpolate": "rgb", "clamp": true}, "legend": {"orient": "bottom", "direction": "horizontal", "title": "Bᵩ [Bᵤ]", "titleOrient": "bottom", "titleAnchor": "middle", "gradientLength": 558, "gradientThickness": 26, "gradientStrokeColor": "black", "gradientStrokeWidth": 1, "values": [-0.04,-0.02,0,0.02,0.04], "format": ".2f", "offset": 14}}
     }},
    {"data": {"name": "arrows"}, "transform": [{"filter": "datum.s == 'C'"}],
     "mark": {"type": "point", "shape": "M0,-1L0.58,0.8L0,0.45L-0.58,0.8Z", "filled": true, "color": "#232323", "size": 240, "opacity": 1, "strokeWidth": 0},
     "encoding": {
      "x": {"field": "x", "type": "quantitative", "scale": {"domain": [-4, 4], "nice": false, "zero": false}, "axis": {"orient": "top", "labels": false, "title": null, "values": [-4,-2,0,2,4]}},
      "y": {"field": "z", "type": "quantitative", "scale": {"domain": [-8, 8], "nice": false, "zero": false}, "axis": {"orient": "right", "labels": false, "title": null, "values": [-8,-6,-4,-2,0,2,4,6,8]}},
      "angle": {"field": "a", "type": "quantitative", "scale": null}
     }},
    {"data": {"values": [{}]},
     "mark": {"type": "rect", "fill": "#efefef", "fillOpacity": 0.85, "cornerRadius": 5},
     "encoding": {"x": {"datum": 0.5, "type": "quantitative", "axis": null}, "x2": {"datum": 3.96}, "y": {"datum": 7.29, "type": "quantitative", "axis": null}, "y2": {"datum": 6.43}}},
    {"data": {"values": [{}]},
     "mark": {"type": "text", "text": "200.0 orbits", "align": "right", "baseline": "middle", "fontSize": 22, "font": "Liberation Serif", "color": "black"},
     "encoding": {"x": {"datum": 3.83, "type": "quantitative", "axis": null}, "y": {"datum": 6.88, "type": "quantitative", "axis": null}}}
   ],
   "resolve": {"axis": {"x": "independent", "y": "independent"}}
  }
]
}
